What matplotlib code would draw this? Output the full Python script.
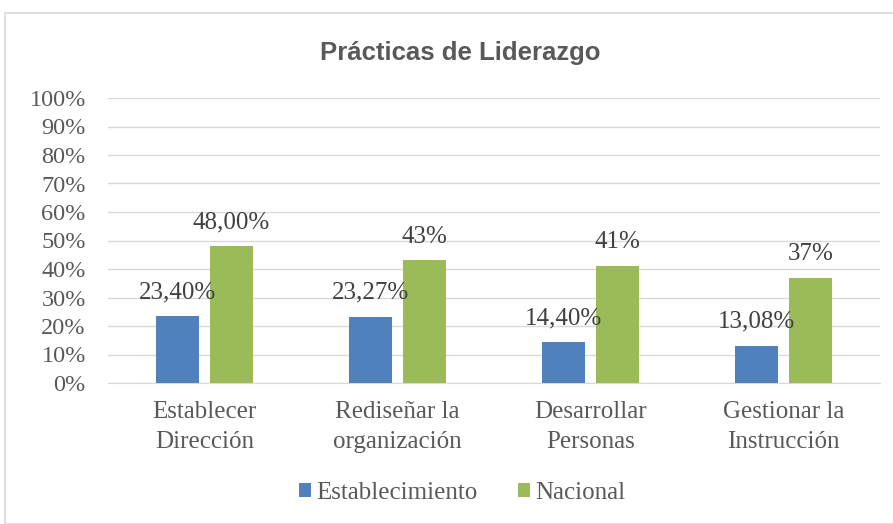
import matplotlib.pyplot as plt
import numpy as np
from matplotlib.patches import Rectangle

# data
categorias = ["Establecer\nDirección", "Rediseñar la\norganización", "Desarrollar\nPersonas", "Gestionar la\nInstrucción"]
establecimiento = [0.2340, 0.2327, 0.1440, 0.1308]
nacional = [0.48, 0.43, 0.41, 0.37]
etq_establecimiento = ["23,40%", "23,27%", "14,40%", "13,08%"]
etq_nacional = ["48,00%", "43%", "41%", "37%"]

azul = "#4f81bd"
verde = "#9bbb59"
gris_texto = "#595959"
serif = "Liberation Serif"

fig = plt.figure(figsize=(8.93, 5.24), dpi=100)
# chart border
fig.patches.append(Rectangle((5 / 893, 0), 1, 1 - 13 / 524, transform=fig.transFigure,
                             fill=False, edgecolor="#d9d9d9", linewidth=1.2))

ax = fig.add_axes([108 / 893, 1 - 383 / 524, 772 / 893, 285 / 524])

x = np.arange(len(categorias))
w = 0.223
ax.bar(x - 0.14, establecimiento, w, color=azul, label="Establecimiento", zorder=3)
ax.bar(x + 0.14, nacional, w, color=verde, label="Nacional", zorder=3)

for i in range(len(categorias)):
    ax.text(x[i] - 0.14, establecimiento[i] + 0.045, etq_establecimiento[i], ha="center", va="bottom",
            fontsize=18, family=serif, color="#404040")
    ax.text(x[i] + 0.14, nacional[i] + 0.045, etq_nacional[i], ha="center", va="bottom",
            fontsize=18, family=serif, color="#404040")

ax.set_xlim(-0.5, 3.5)
ax.set_ylim(0, 1)
ax.set_yticks(np.arange(0, 1.01, 0.1))
ax.set_yticklabels([f"{int(round(v * 100))}%" for v in np.arange(0, 1.01, 0.1)],
                   family=serif, fontsize=17.5, color=gris_texto)
ax.set_xticks(x)
ax.set_xticklabels(categorias, family=serif, fontsize=18, color=gris_texto, linespacing=1.45)
ax.tick_params(length=0)
ax.tick_params(axis="y", pad=16)
ax.tick_params(axis="x", pad=13)
ax.grid(axis="y", color="#d9d9d9", linewidth=1, zorder=0)
for s in ["top", "right", "left"]:
    ax.spines[s].set_visible(False)
ax.spines["bottom"].set_color("#d9d9d9")

fig.text(460 / 893, 1 - 53 / 524, "Prácticas de Liderazgo", ha="center", va="center",
         fontsize=18.5, fontweight="bold", family="Liberation Sans", color=gris_texto)

leg = fig.legend(loc="center", bbox_to_anchor=(462 / 893, 1 - 493 / 524), ncol=2, frameon=False,
                 prop={"family": serif, "size": 18}, handlelength=0.5, handleheight=0.5,
                 handletextpad=0.2, columnspacing=1.6)
for t in leg.get_texts():
    t.set_color(gris_texto)

plt.savefig("out.png", dpi=100)
